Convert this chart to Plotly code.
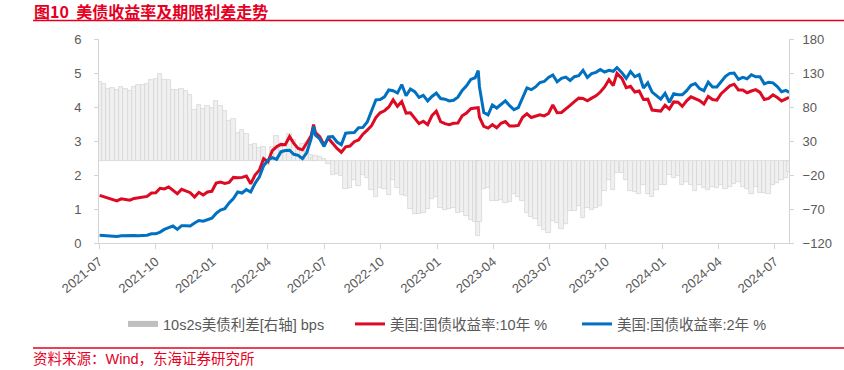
import plotly.graph_objects as go

DATES = [
    "2021-07-02","2021-07-09","2021-07-16","2021-07-23","2021-07-30",
    "2021-08-06","2021-08-13","2021-08-20","2021-08-27",
    "2021-09-03","2021-09-10","2021-09-17","2021-09-24",
    "2021-10-01","2021-10-08","2021-10-15","2021-10-22","2021-10-29",
    "2021-11-05","2021-11-12","2021-11-19","2021-11-26",
    "2021-12-03","2021-12-10","2021-12-17","2021-12-24","2021-12-31",
    "2022-01-07","2022-01-14","2022-01-21","2022-01-28",
    "2022-02-04","2022-02-11","2022-02-18","2022-02-25",
    "2022-03-04","2022-03-11","2022-03-18","2022-03-25",
    "2022-04-01","2022-04-08","2022-04-15","2022-04-22","2022-04-29",
    "2022-05-06","2022-05-13","2022-05-20","2022-05-27",
    "2022-06-03","2022-06-10","2022-06-14","2022-06-17","2022-06-24",
    "2022-07-01","2022-07-08","2022-07-15","2022-07-22","2022-07-29",
    "2022-08-05","2022-08-12","2022-08-19","2022-08-26",
    "2022-09-02","2022-09-09","2022-09-16","2022-09-23","2022-09-30",
    "2022-10-07","2022-10-14","2022-10-21","2022-10-28",
    "2022-11-04","2022-11-11","2022-11-18","2022-11-25",
    "2022-12-02","2022-12-09","2022-12-16","2022-12-23","2022-12-30",
    "2023-01-06","2023-01-13","2023-01-20","2023-01-27",
    "2023-02-03","2023-02-10","2023-02-17","2023-02-24",
    "2023-03-03","2023-03-08","2023-03-10","2023-03-17","2023-03-24","2023-03-31",
    "2023-04-07","2023-04-14","2023-04-21","2023-04-28",
    "2023-05-05","2023-05-12","2023-05-19","2023-05-26",
    "2023-06-02","2023-06-09","2023-06-16","2023-06-23","2023-06-30",
    "2023-07-07","2023-07-14","2023-07-21","2023-07-28",
    "2023-08-04","2023-08-11","2023-08-18","2023-08-25",
    "2023-09-01","2023-09-08","2023-09-15","2023-09-22","2023-09-29",
    "2023-10-06","2023-10-13","2023-10-19","2023-10-27",
    "2023-11-03","2023-11-10","2023-11-17","2023-11-24",
    "2023-12-01","2023-12-08","2023-12-15","2023-12-22","2023-12-29",
    "2024-01-05","2024-01-12","2024-01-19","2024-01-26",
    "2024-02-02","2024-02-09","2024-02-16","2024-02-23",
    "2024-03-01","2024-03-08","2024-03-15","2024-03-22","2024-03-29",
    "2024-04-05","2024-04-12","2024-04-19","2024-04-26",
    "2024-05-03","2024-05-10","2024-05-17","2024-05-24","2024-05-31",
    "2024-06-07","2024-06-14","2024-06-21","2024-06-28",
    "2024-07-05","2024-07-12","2024-07-19","2024-07-24",
]

# 美国:国债收益率:10年 (%)
T10 = [
    1.40,1.36,1.30,1.28,1.24,
    1.30,1.28,1.26,1.31,
    1.33,1.34,1.37,1.47,
    1.48,1.61,1.59,1.65,1.55,
    1.45,1.58,1.54,1.48,
    1.35,1.49,1.41,1.50,1.52,
    1.76,1.79,1.75,1.78,
    1.93,1.92,1.93,1.97,
    1.74,2.00,2.14,2.48,
    2.39,2.72,2.83,2.90,2.89,
    3.13,2.93,2.78,2.74,
    2.94,3.15,3.48,3.25,3.13,
    2.88,3.08,2.93,2.78,2.67,
    2.83,2.85,2.98,3.03,
    3.20,3.32,3.45,3.69,3.83,
    3.89,4.00,4.21,4.02,
    4.16,3.82,3.83,3.68,
    3.51,3.58,3.48,3.75,3.88,
    3.57,3.51,3.48,3.52,
    3.53,3.74,3.82,3.95,
    3.97,3.98,3.70,3.43,3.38,3.48,
    3.39,3.52,3.57,3.44,
    3.44,3.46,3.70,3.80,
    3.69,3.74,3.77,3.74,3.81,
    4.06,3.83,3.84,3.96,
    4.05,4.16,4.26,4.25,
    4.18,4.26,4.33,4.44,4.59,
    4.80,4.63,4.99,4.84,
    4.57,4.61,4.44,4.47,
    4.22,4.23,3.91,3.90,3.88,
    4.05,3.94,4.15,4.14,
    4.02,4.18,4.30,4.25,
    4.19,4.09,4.31,4.22,4.20,
    4.39,4.50,4.62,4.67,
    4.50,4.50,4.42,4.47,4.51,
    4.43,4.22,4.25,4.36,
    4.28,4.18,4.24,4.28,
]

# 美国:国债收益率:2年 (%)
T2 = [
    0.23,0.22,0.23,0.20,0.19,
    0.21,0.22,0.22,0.22,
    0.21,0.21,0.23,0.27,
    0.27,0.32,0.40,0.45,0.50,
    0.40,0.51,0.51,0.50,
    0.59,0.66,0.64,0.69,0.73,
    0.87,0.97,1.01,1.18,
    1.31,1.50,1.47,1.57,
    1.50,1.75,1.94,2.27,
    2.44,2.51,2.46,2.68,2.72,
    2.73,2.61,2.58,2.48,
    2.66,3.06,3.43,3.17,3.06,
    2.84,3.12,3.13,2.97,2.89,
    3.23,3.24,3.25,3.39,
    3.40,3.56,3.87,4.21,4.22,
    4.30,4.50,4.48,4.41,
    4.66,4.33,4.53,4.45,
    4.28,4.34,4.18,4.31,4.41,
    4.25,4.23,4.18,4.20,
    4.29,4.49,4.62,4.81,
    4.86,5.07,4.59,3.84,3.77,4.06,
    3.97,4.09,4.18,4.04,
    3.92,3.98,4.28,4.56,
    4.51,4.59,4.72,4.75,4.87,
    4.94,4.74,4.84,4.88,
    4.78,4.89,4.92,5.08,
    4.87,4.98,5.02,5.10,5.03,
    5.08,5.05,5.16,5.01,
    4.84,5.04,4.89,4.95,
    4.56,4.71,4.44,4.32,4.23,
    4.40,4.14,4.39,4.36,
    4.36,4.48,4.64,4.69,
    4.54,4.48,4.73,4.59,4.59,
    4.73,4.90,4.99,5.00,
    4.81,4.87,4.83,4.95,4.89,
    4.89,4.68,4.73,4.71,
    4.60,4.45,4.49,4.43,
]

# 10s2s美债利差 (bps)
SPREAD = [
    117,114,107,108,105,
    109,106,104,109,
    112,113,114,120,
    121,129,119,120,105,
    105,107,103,98,
    76,83,77,81,79,
    89,82,74,60,
    62,42,46,40,
    24,25,20,21,
    -5,21,37,22,17,
    40,32,20,26,
    28,9,5,8,7,
    4,-4,-20,-19,-22,
    -40,-39,-27,-36,
    -20,-24,-42,-52,-39,
    -41,-50,-27,-39,
    -50,-51,-70,-77,
    -77,-76,-70,-56,-53,
    -68,-72,-70,-68,
    -76,-75,-80,-86,
    -89,-109,-89,-41,-39,-58,
    -58,-57,-61,-60,
    -48,-52,-58,-76,
    -82,-85,-95,-101,-106,
    -88,-91,-100,-92,
    -73,-73,-66,-83,
    -69,-72,-69,-66,-44,
    -28,-42,-17,-17,
    -27,-43,-45,-48,
    -34,-48,-53,-42,-35,
    -35,-20,-24,-22,
    -34,-30,-34,-44,
    -35,-39,-42,-37,-39,
    -34,-40,-37,-33,
    -31,-37,-41,-48,-38,
    -46,-46,-48,-35,
    -32,-27,-25,-15,
]

NAME_SPREAD = "10s2s美债利差[右轴] bps"
NAME_T10 = "美国:国债收益率:10年 %"
NAME_T2 = "美国:国债收益率:2年 %"
TITLE = "<b>图10\u00a0\u00a0美债收益率及期限利差走势</b>"
SOURCE = "资料来源：Wind，东海证券研究所"

RED = "#DC0A23"
BLUE = "#0070C0"
TXT = "#595959"
AX = "#D4D4D4"
FONT = "Liberation Sans, Arial, Noto Sans CJK SC, sans-serif"

W, H = 844, 370
L, R, T, B = 99, 55, 39, 127
PW, PH = W - L - R, H - T - B

def px_x(p):
    return (p - L) / PW

def px_y(p):
    return (H - B - p) / PH

fig = go.Figure()

# legend proxy for the bar series
fig.add_trace(go.Scatter(x=[None], y=[None], mode="lines", name=NAME_SPREAD,
                         line=dict(color="#BFBFBF", width=6), yaxis="y"))
fig.add_trace(go.Bar(x=DATES, y=SPREAD, name=NAME_SPREAD, showlegend=False,
                     marker=dict(color="#F0F0F0", line=dict(color="#D6D6D6", width=0.8)),
                     width=7 * 24 * 3600 * 1000, yaxis="y"))
fig.add_trace(go.Scatter(x=DATES, y=T10, name=NAME_T10, mode="lines",
                         line=dict(color=RED, width=3), yaxis="y2"))
fig.add_trace(go.Scatter(x=DATES, y=T2, name=NAME_T2, mode="lines",
                         line=dict(color=BLUE, width=3), yaxis="y2"))

fig.update_layout(
    template="none",
    width=W, height=H,
    margin=dict(l=L, r=R, t=T, b=B, autoexpand=False),
    paper_bgcolor="white", plot_bgcolor="white",
    font=dict(family=FONT, size=13, color=TXT),
    bargap=0,
    showlegend=True,
    legend=dict(orientation="h", x=px_x(123), xanchor="left",
                y=px_y(324), yanchor="middle",
                font=dict(size=14.5, color=TXT),
                entrywidth=182, entrywidthmode="pixels",
                bgcolor="rgba(0,0,0,0)", traceorder="normal"),
    xaxis=dict(type="date", range=["2021-07-01", "2024-07-24"],
               tick0="2021-07-01", dtick="M3", tickformat="%Y-%m",
               tickangle=-40, showgrid=False, zeroline=False,
               showline=True, linecolor=AX, linewidth=1,
               ticks="outside", ticklen=5, tickcolor=AX,
               tickfont=dict(size=13, color=TXT), automargin=False),
    yaxis=dict(side="right", range=[-120, 180], tick0=-120, dtick=50,
               showgrid=False, zeroline=False, showline=True,
               linecolor=AX, linewidth=1, ticks="outside", ticklen=4,
               tickcolor=AX, ticklabelstandoff=6,
               tickfont=dict(size=13, color=TXT), automargin=False),
    yaxis2=dict(overlaying="y", side="left", range=[0, 6], dtick=1,
                showgrid=False, zeroline=False, showline=True,
                linecolor=AX, linewidth=1, ticks="outside", ticklen=4,
                tickcolor=AX, ticklabelstandoff=10,
                tickfont=dict(size=13, color=TXT), automargin=False),
    annotations=[
        dict(text=TITLE, xref="paper", yref="paper", x=px_x(33), y=px_y(11),
             xanchor="left", yanchor="middle", showarrow=False, borderpad=0,
             font=dict(size=16, color="#E5001F", family="Noto Sans CJK SC, sans-serif")),
        dict(text=SOURCE, xref="paper", yref="paper", x=px_x(32), y=px_y(359),
             xanchor="left", yanchor="middle", showarrow=False, borderpad=0,
             font=dict(size=14.5, color="#E5001F", family=FONT)),
    ],
    shapes=[
        dict(type="line", xref="paper", yref="paper", x0=px_x(33), x1=px_x(844),
             y0=px_y(20.5), y1=px_y(20.5), line=dict(color="#E5001F", width=1.5)),
        dict(type="line", xref="paper", yref="paper", x0=px_x(33), x1=px_x(844),
             y0=px_y(348), y1=px_y(348), line=dict(color="#E5001F", width=1.5)),
    ],
)

fig.write_html("out.html",
               config={"displayModeBar": False},
               post_script="document.body.style.margin='0px';document.body.style.overflow='hidden';")
